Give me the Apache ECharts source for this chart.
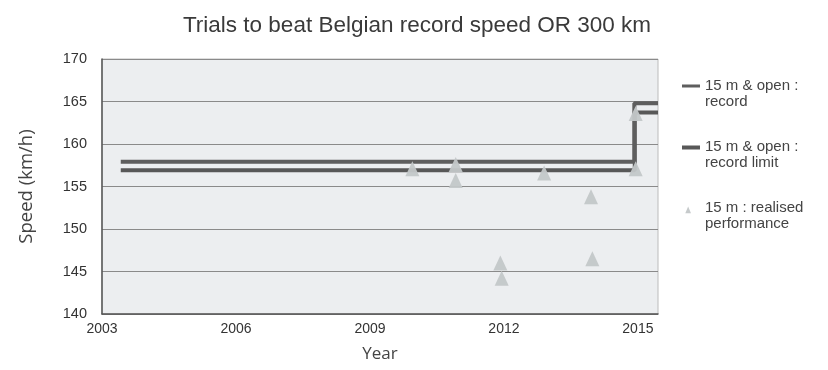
<!DOCTYPE html>
<html>
<head>
<meta charset="utf-8">
<script src="https://cdn.jsdelivr.net/npm/echarts@6/dist/echarts.min.js"></script>
<style>
  html, body { margin: 0; padding: 0; background: #ffffff; }
  #chart { width: 828px; height: 370px; }
</style>
</head>
<body>
<div id="chart"></div>
<script>
// Belgian record (15 m & open) and its limit: [year, km/h], stepping at the record change
const recordPoints = [[2003.42, 157.9], [2014.92, 164.8], [2015.45, 164.8]];
const recordLimitPoints = [[2003.42, 156.9], [2014.93, 163.7], [2015.45, 163.7]];

// Realised performances on the 15 m class: [year, km/h]
const performanceYears = [2009.95, 2010.92, 2010.92, 2011.92, 2011.95, 2012.9, 2013.95, 2013.98, 2014.95, 2014.95];
const performanceSpeeds = [157.1, 157.6, 155.7, 146.0, 144.2, 156.6, 153.8, 146.5, 163.6, 157.1];

const seriesNames = ['15 m & open :\nrecord', '15 m & open :\nrecord limit', '15 m : realised\nperformance'];
const yearTicks = [2003, 2006, 2009, 2012, 2015];

const chart = echarts.init(document.getElementById('chart'));

const performancePoints = performanceYears.map((y, i) => [y, performanceSpeeds[i]]);

const labelFont = 'Liberation Sans, Arial, sans-serif';
const nameFont = 'Open Sans, Noto Sans, sans-serif';

// Legend glyphs sit on the first text line: a tiny corner square stretches the icon box
const barIcon = h => 'path://M0,0H18V' + h + 'H0Z M18,19h0.01v0.01h-0.01Z';

chart.setOption({
  animation: false,
  title: {
    text: 'Trials to beat Belgian record speed OR 300 km',
    left: 412,
    textAlign: 'center',
    top: 9,
    textStyle: { fontFamily: labelFont, fontSize: 22.5, fontWeight: 'normal', color: '#3a3a3a' }
  },
  legend: {
    orient: 'vertical',
    left: 682,
    top: 78,
    padding: 0,
    itemGap: 29,
    itemWidth: 18,
    itemHeight: 19,
    selectedMode: false,
    textStyle: { fontFamily: labelFont, fontSize: 15, color: '#444', lineHeight: 16 },
    data: [
      { name: seriesNames[0], icon: barIcon(3) },
      { name: seriesNames[1], icon: barIcon(4) },
      { name: seriesNames[2], icon: 'path://M3,6L6,-1L9,6Z M0,0h0.01v0.01h-0.01Z M18,19h0.01v0.01h-0.01Z' }
    ]
  },
  grid: {
    left: 102,
    right: 170,
    top: 59,
    bottom: 56,
    show: true,
    backgroundColor: '#eceef0',
    borderColor: '#bcbcbc',
    borderWidth: 1
  },
  xAxis: {
    type: 'value',
    min: 2003,
    max: 2015.45,
    interval: 3,
    name: 'Year',
    nameLocation: 'middle',
    nameGap: 32,
    nameTextStyle: { fontFamily: nameFont, fontSize: 17, color: '#444' },
    axisLine: { show: true, lineStyle: { color: '#555', width: 1.5 } },
    axisTick: { show: false },
    splitLine: { show: false },
    axisLabel: {
      margin: 8,
      fontFamily: labelFont,
      fontSize: 14,
      color: '#333',
      showMaxLabel: false,
      formatter: v => (yearTicks.indexOf(Math.round(v * 100) / 100) >= 0 ? String(v) : '')
    }
  },
  yAxis: {
    type: 'value',
    min: 140,
    max: 170,
    interval: 5,
    name: 'Speed (km/h)',
    nameLocation: 'middle',
    nameGap: 66,
    nameTextStyle: { fontFamily: nameFont, fontSize: 18.5, color: '#444' },
    axisLine: { show: true, lineStyle: { color: '#555', width: 1.5 } },
    axisTick: { show: false },
    splitLine: { show: true, lineStyle: { color: '#8a8a8a', width: 1 } },
    axisLabel: { margin: 15, fontFamily: labelFont, fontSize: 14.5, color: '#333' }
  },
  series: [
    {
      name: seriesNames[0],
      type: 'line',
      step: 'end',
      data: recordPoints,
      showSymbol: false,
      color: '#5e5e5e',
      lineStyle: { width: 4, color: '#5e5e5e' },
      z: 3
    },
    {
      name: seriesNames[1],
      type: 'line',
      step: 'end',
      data: recordLimitPoints,
      showSymbol: false,
      color: '#585858',
      lineStyle: { width: 4, color: '#585858' },
      z: 2
    },
    {
      name: seriesNames[2],
      type: 'scatter',
      data: performancePoints,
      symbol: 'triangle',
      symbolSize: [14, 15],
      color: '#c3c7c8',
      itemStyle: { color: '#c3c7c8', opacity: 0.95 },
      z: 4
    }
  ]
});
</script>
</body>
</html>
